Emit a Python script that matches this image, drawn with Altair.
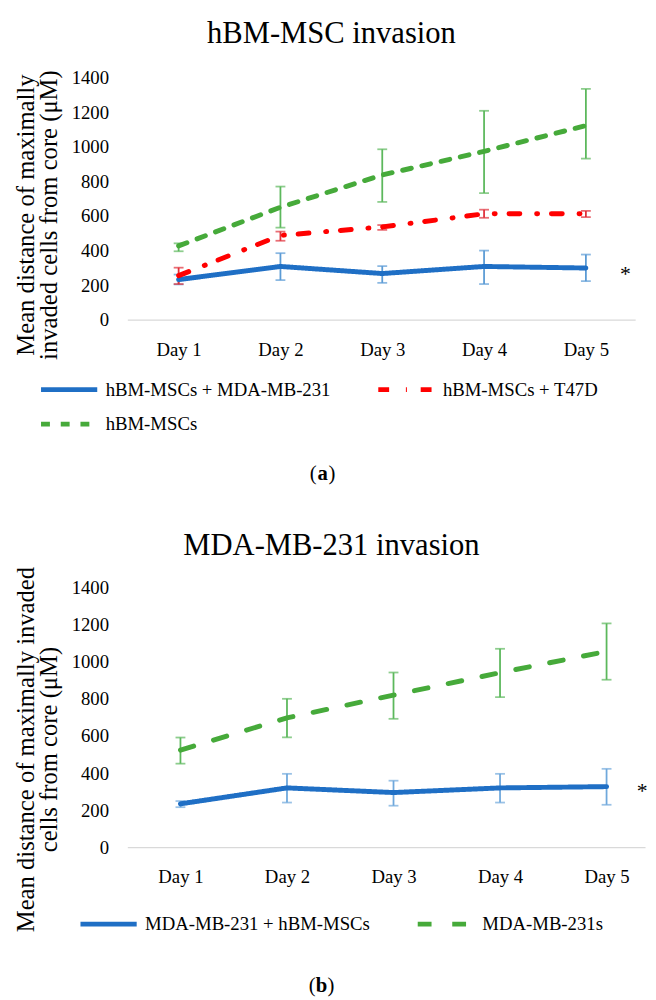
import altair as alt
import pandas as pd

days = ["Day 1", "Day 2", "Day 3", "Day 4", "Day 5"]

# Panel (a): hBM-MSC invasion
a_title = "hBM-MSC invasion"
a_series = ["hBM-MSCs + MDA-MB-231", "hBM-MSCs + T47D", "hBM-MSCs"]
a_blue_mean = [232, 308, 267, 308, 299]
a_blue_lo = [204, 229, 213, 206, 223]
a_blue_hi = [261, 385, 310, 400, 377]
a_red_mean = [255, 488, 537, 613, 613]
a_red_lo = [206, 457, 520, 590, 594]
a_red_hi = [301, 510, 548, 637, 630]
a_green_mean = [427, 651, 838, 975, 1124]
a_green_lo = [396, 533, 682, 733, 933]
a_green_hi = [442, 771, 987, 1210, 1337]

# Panel (b): MDA-MB-231 invasion
b_title = "MDA-MB-231 invasion"
b_series = ["MDA-MB-231 + hBM-MSCs", "MDA-MB-231s"]
b_blue_mean = [234, 320, 295, 320, 327]
b_blue_lo = [216, 241, 224, 241, 229]
b_blue_hi = [249, 396, 359, 396, 423]
b_green_mean = [524, 698, 821, 942, 1057]
b_green_lo = [451, 593, 693, 810, 904]
b_green_hi = [592, 801, 943, 1071, 1208]

y_ticks = [0, 200, 400, 600, 800, 1000, 1200, 1400]

FONT = "Liberation Serif"
LEGEND_SYMBOL = "M -2.5 0 L 2.5 0"


def build_frame(names, means, los, his):
    rows = []
    for name, m, lo, hi in zip(names, means, los, his):
        for d, mv, lv, hv in zip(days, m, lo, hi):
            rows.append({"day": d, "series": name, "mean": mv, "lo": lv, "hi": hv})
    return pd.DataFrame(rows)


df_a = build_frame(a_series, [a_blue_mean, a_red_mean, a_green_mean],
                   [a_blue_lo, a_red_lo, a_green_lo], [a_blue_hi, a_red_hi, a_green_hi])
df_b = build_frame(b_series, [b_blue_mean, b_green_mean],
                   [b_blue_lo, b_green_lo], [b_blue_hi, b_green_hi])


def panel(df, names, legend_order, colors, errcolors, dashes, widths, title, title_x,
          title_y, ytitle, ytitle_shift, width, height, xpad, xalign, legend_x, legend_y,
          star_dx, star_dy, tag, tag_x, tag_y):
    xenc = alt.X("day:O", sort=days,
                 scale=alt.Scale(type="point", padding=xpad, align=xalign),
                 axis=alt.Axis(title=None, labelAngle=0, ticks=False, tickSize=0,
                               labelPadding=21, domainColor="#d9d9d9", domainWidth=1.2,
                               labelFontSize=19, labelFont=FONT, labelColor="#000"))
    yaxis = alt.Axis(values=y_ticks, format="d", grid=False, domain=False, ticks=False,
                     tickSize=0, labelPadding=19, labelFontSize=19, labelFont=FONT,
                     labelColor="#000",
                     title=ytitle, titleFont=FONT, titleFontSize=25,
                     titleFontWeight="normal", titleColor="#000",
                     titleLineHeight=23, titlePadding=10,
                     titleY=height / 2 + ytitle_shift)
    yscale = alt.Scale(domain=[0, 1400])
    base = alt.Chart(df)

    layers = []
    for name, ec in zip(names, errcolors):
        sub = base.transform_filter(alt.datum.series == name)
        layers.append(sub.mark_rule(strokeWidth=1.8, color=ec).encode(
            x=xenc, y=alt.Y("lo:Q", scale=yscale, axis=yaxis), y2="hi:Q"))
        layers.append(sub.mark_tick(size=10, thickness=1.8, color=ec).encode(
            x=xenc, y=alt.Y("lo:Q", scale=yscale, axis=yaxis)))
        layers.append(sub.mark_tick(size=10, thickness=1.8, color=ec).encode(
            x=xenc, y=alt.Y("hi:Q", scale=yscale, axis=yaxis)))

    leg = alt.Legend(title=None, orient="none", legendX=legend_x, legendY=legend_y,
                     columns=2, columnPadding=37, rowPadding=11,
                     symbolType=LEGEND_SYMBOL, symbolSize=520, symbolStrokeWidth=5,
                     labelFontSize=19, labelFont=FONT, labelColor="#000",
                     labelFontWeight="normal", labelOffset=23, labelLimit=400)
    cmap = dict(zip(names, colors))
    dmap = dict(zip(names, dashes))
    wmap = dict(zip(names, widths))
    order = [names[i] for i in legend_order]
    lines = base.mark_line(strokeCap="round", strokeJoin="round").encode(
        x=xenc,
        y=alt.Y("mean:Q", scale=yscale, axis=yaxis),
        color=alt.Color("series:N", scale=alt.Scale(domain=order,
                                                    range=[cmap[n] for n in order]),
                        legend=leg),
        strokeDash=alt.StrokeDash("series:N", scale=alt.Scale(domain=order,
                                                              range=[dmap[n] for n in order]),
                                  legend=leg),
        strokeWidth=alt.StrokeWidth("series:N", scale=alt.Scale(domain=order,
                                                                range=[wmap[n] for n in order]),
                                    legend=leg),
    )
    layers.append(lines)
    star = base.mark_text(text="*", fontSize=22, font=FONT, dx=star_dx, dy=star_dy,
                          color="#000").encode(
        x=xenc, y=alt.Y("mean:Q", scale=yscale, axis=yaxis)
    ).transform_filter(
        (alt.datum.series == names[0]) & (alt.datum.day == days[-1])
    )
    layers.append(star)

    # chart title as text
    title_df = pd.DataFrame({"title": [title]})
    layers.append(alt.Chart(title_df).mark_text(
        align="center", baseline="middle", fontSize=31, font=FONT, color="#000").encode(
        x=alt.value(title_x), y=alt.value(title_y), text="title:N"))

    tag_df = pd.DataFrame({"t": [tag]})
    tchart = alt.Chart(tag_df)
    layers.append(tchart.mark_text(text="(", align="right", fontSize=21, font=FONT,
                                   color="#000").encode(
        x=alt.value(tag_x - 6), y=alt.value(tag_y)))
    layers.append(tchart.mark_text(align="center", fontSize=21, font=FONT, fontWeight="bold",
                                   color="#000").encode(
        x=alt.value(tag_x), y=alt.value(tag_y), text="t:N"))
    layers.append(tchart.mark_text(text=")", align="left", fontSize=21, font=FONT,
                                   color="#000").encode(
        x=alt.value(tag_x + 6), y=alt.value(tag_y)))

    return alt.layer(*layers).properties(width=width, height=height)


pa = panel(df_a, a_series, [0, 2, 1],
           ["#1f6fc5", "#ff0000", "#46aa3a"],
           ["#5b9bd5", "#e0303a", "#5cb85c"],
           [[1, 0], [11, 17, 1, 14], [9, 11]],
           [5, 4, 5],
           a_title, 207, -45,
           ["Mean distance of maximally", "invaded cells from core (μM)"], 16,
           515, 245, 0.494, 0.51, -73, 302, 40, 6, "a", 198, 402)

pb = panel(df_b, b_series, [0, 1],
           ["#1f6fc5", "#46aa3a"],
           ["#6fa8dc", "#5cb85c"],
           [[1, 0], [14, 21]],
           [5, 5],
           b_title, 207, -42,
           ["Mean distance of maximally invaded", "cells from core (μM)"], 32,
           525, 263, 0.43, 0.58, -33, 327, 36, 5, "b", 197, 404)

chart = alt.vconcat(pa, pb, spacing=47).resolve_scale(
    color="independent", strokeDash="independent", strokeWidth="independent"
).resolve_legend(color="independent", strokeDash="independent",
                 strokeWidth="independent").properties(
    padding={"left": 5, "top": 3, "right": 0, "bottom": 0}
).configure(font=FONT).configure_view(stroke=None).configure_legend(
    labelFont=FONT, labelFontSize=19, labelFontWeight="normal", labelColor="#000"
)

chart.save("out.html", embed_options={"renderer": "svg", "actions": False})
